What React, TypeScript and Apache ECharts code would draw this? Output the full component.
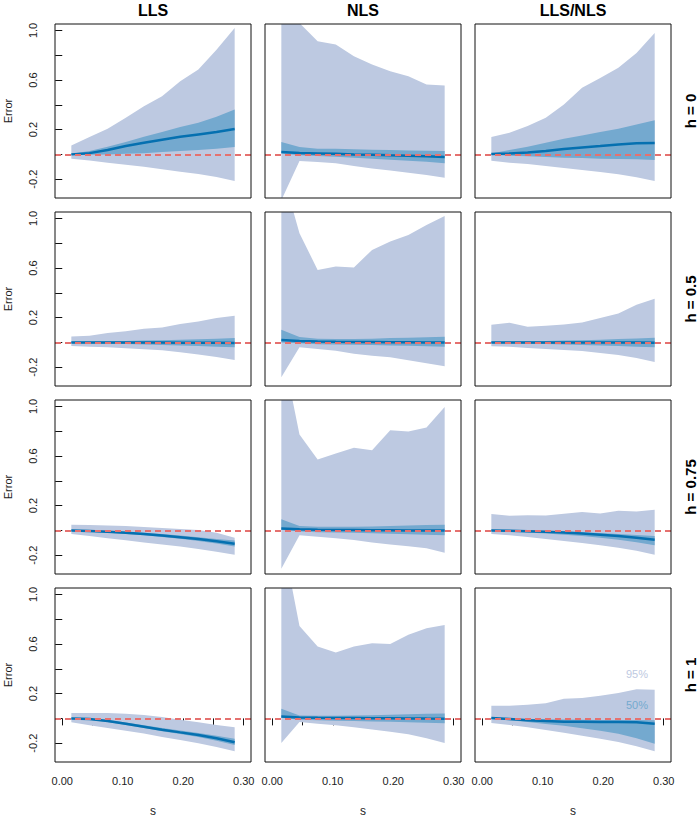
import React, { useEffect, useRef } from "react";
import * as echarts from "echarts";

// x positions (s)
const S = [0.015, 0.045, 0.075, 0.105, 0.135, 0.165, 0.195, 0.225, 0.255, 0.285];

const COLS = ["LLS", "NLS", "LLS/NLS"];
const ROWS = ["h = 0", "h = 0.5", "h = 0.75", "h = 1"];

const X_TICKS = [0, 0.05, 0.1, 0.15, 0.2, 0.25, 0.3];
const X_LABELS = [0, 0.1, 0.2, 0.3];
const Y_TICKS = [-0.2, 0, 0.2, 0.4, 0.6, 0.8, 1.0];
const Y_LABELS = [-0.2, 0.2, 0.6, 1.0];

// ---- h = 0 ----
const LLS_h0_hi95 = [0.072, 0.14, 0.207, 0.295, 0.389, 0.47, 0.59, 0.684, 0.845, 1.02];
const LLS_h0_lo95 = [-0.035, -0.05, -0.067, -0.083, -0.1, -0.12, -0.14, -0.158, -0.182, -0.215];
const LLS_h0_hi50 = [0.006, 0.027, 0.062, 0.1, 0.142, 0.18, 0.22, 0.255, 0.303, 0.362];
const LLS_h0_lo50 = [-0.004, -0.003, 0.0, 0.005, 0.01, 0.019, 0.027, 0.035, 0.046, 0.06];
const LLS_h0_med = [0.0, 0.01, 0.035, 0.067, 0.094, 0.118, 0.142, 0.161, 0.18, 0.204];

const NLS_h0_hi95 = [1.5, 1.06, 0.912, 0.886, 0.792, 0.725, 0.671, 0.631, 0.564, 0.556];
const NLS_h0_lo95 = [-0.37, -0.054, -0.062, -0.072, -0.094, -0.113, -0.131, -0.148, -0.166, -0.188];
const NLS_h0_hi50 = [0.1, 0.059, 0.046, 0.046, 0.042, 0.038, 0.035, 0.032, 0.03, 0.027];
const NLS_h0_lo50 = [0.008, -0.008, -0.013, -0.019, -0.027, -0.035, -0.043, -0.051, -0.059, -0.072];
const NLS_h0_med = [0.019, 0.011, 0.008, 0.005, 0.0, -0.003, -0.008, -0.011, -0.016, -0.021];

const MIX_h0_hi95 = [0.14, 0.174, 0.228, 0.295, 0.403, 0.537, 0.617, 0.698, 0.819, 0.98];
const MIX_h0_lo95 = [-0.051, -0.067, -0.078, -0.094, -0.11, -0.126, -0.142, -0.161, -0.185, -0.215];
const MIX_h0_hi50 = [0.008, 0.035, 0.062, 0.094, 0.126, 0.153, 0.18, 0.207, 0.242, 0.276];
const MIX_h0_lo50 = [-0.003, -0.011, -0.016, -0.021, -0.027, -0.03, -0.035, -0.038, -0.04, -0.046];
const MIX_h0_med = [0.003, 0.008, 0.016, 0.027, 0.043, 0.056, 0.067, 0.08, 0.089, 0.091];

// ---- h = 0.5 ----
const LLS_h05_hi95 = [0.048, 0.054, 0.075, 0.089, 0.11, 0.12, 0.148, 0.169, 0.196, 0.215];
const LLS_h05_lo95 = [-0.03, -0.035, -0.04, -0.048, -0.056, -0.064, -0.08, -0.097, -0.118, -0.142];
const LLS_h05_hi50 = [0.005, 0.007, 0.009, 0.012, 0.015, 0.018, 0.022, 0.026, 0.03, 0.035];
const LLS_h05_lo50 = [-0.005, -0.008, -0.011, -0.014, -0.017, -0.021, -0.025, -0.03, -0.035, -0.04];
const LLS_h05_med = [0, 0, -0.001, -0.001, -0.002, -0.002, -0.003, -0.003, -0.004, -0.005];

const NLS_h05_hi95 = [1.4, 0.88, 0.585, 0.612, 0.604, 0.746, 0.813, 0.867, 0.947, 1.02];
const NLS_h05_lo95 = [-0.282, -0.04, -0.054, -0.067, -0.091, -0.107, -0.121, -0.145, -0.169, -0.193];
const NLS_h05_hi50 = [0.102, 0.043, 0.03, 0.028, 0.028, 0.03, 0.035, 0.038, 0.042, 0.046];
const NLS_h05_lo50 = [0.0, -0.008, -0.015, -0.018, -0.02, -0.022, -0.025, -0.028, -0.032, -0.035];
const NLS_h05_med = [0.019, 0.012, 0.008, 0.005, 0.004, 0.003, 0.002, 0.001, 0.0, 0.0];

const MIX_h05_hi95 = [0.142, 0.158, 0.126, 0.134, 0.145, 0.161, 0.196, 0.233, 0.303, 0.352];
const MIX_h05_lo95 = [-0.032, -0.035, -0.046, -0.054, -0.062, -0.07, -0.086, -0.102, -0.126, -0.158];
const MIX_h05_hi50 = [0.005, 0.007, 0.009, 0.012, 0.015, 0.018, 0.022, 0.027, 0.032, 0.038];
const MIX_h05_lo50 = [-0.005, -0.008, -0.011, -0.014, -0.017, -0.021, -0.025, -0.03, -0.035, -0.04];
const MIX_h05_med = [0, 0, 0, -0.001, -0.001, -0.001, -0.002, -0.002, -0.002, -0.003];

// ---- h = 0.75 ----
const LLS_h075_hi95 = [0.046, 0.043, 0.04, 0.035, 0.028, 0.02, 0.012, 0.003, -0.02, -0.06];
const LLS_h075_lo95 = [-0.03, -0.046, -0.064, -0.08, -0.097, -0.113, -0.131, -0.15, -0.172, -0.196];
const LLS_h075_hi50 = [0.005, 0.0, -0.005, -0.012, -0.02, -0.03, -0.042, -0.055, -0.07, -0.082];
const LLS_h075_lo50 = [-0.005, -0.012, -0.02, -0.03, -0.04, -0.053, -0.068, -0.085, -0.105, -0.13];
const LLS_h075_med = [0, -0.005, -0.012, -0.02, -0.03, -0.042, -0.055, -0.07, -0.088, -0.107];

const NLS_h075_hi95 = [1.5, 0.773, 0.572, 0.62, 0.666, 0.647, 0.808, 0.797, 0.83, 0.996];
const NLS_h075_lo95 = [-0.309, -0.04, -0.051, -0.064, -0.078, -0.097, -0.113, -0.129, -0.145, -0.18];
const NLS_h075_hi50 = [0.089, 0.035, 0.03, 0.03, 0.03, 0.032, 0.035, 0.04, 0.043, 0.046];
const NLS_h075_lo50 = [0.005, -0.01, -0.015, -0.018, -0.02, -0.023, -0.027, -0.031, -0.035, -0.04];
const NLS_h075_med = [0.016, 0.01, 0.006, 0.004, 0.003, 0.002, 0.001, 0.0, -0.001, -0.002];

const MIX_h075_hi95 = [0.132, 0.118, 0.123, 0.121, 0.134, 0.148, 0.137, 0.158, 0.153, 0.166];
const MIX_h075_lo95 = [-0.03, -0.04, -0.054, -0.07, -0.086, -0.102, -0.121, -0.14, -0.164, -0.196];
const MIX_h075_hi50 = [0.005, 0.002, -0.002, -0.006, -0.01, -0.015, -0.022, -0.03, -0.038, -0.046];
const MIX_h075_lo50 = [-0.005, -0.01, -0.017, -0.025, -0.035, -0.046, -0.06, -0.075, -0.095, -0.12];
const MIX_h075_med = [0, -0.003, -0.007, -0.012, -0.018, -0.025, -0.035, -0.046, -0.06, -0.075];

// ---- h = 1 ----
const LLS_h1_hi95 = [0.043, 0.043, 0.043, 0.038, 0.027, 0.011, -0.011, -0.032, -0.054, -0.072];
const LLS_h1_lo95 = [-0.032, -0.056, -0.078, -0.099, -0.123, -0.15, -0.174, -0.2, -0.23, -0.266];
const LLS_h1_hi50 = [0.003, 0.0, -0.013, -0.033, -0.055, -0.078, -0.098, -0.117, -0.14, -0.165];
const LLS_h1_lo50 = [-0.004, -0.012, -0.03, -0.053, -0.078, -0.103, -0.127, -0.15, -0.18, -0.215];
const LLS_h1_med = [0, -0.005, -0.021, -0.043, -0.067, -0.091, -0.113, -0.134, -0.161, -0.193];

const NLS_h1_hi95 = [1.5, 0.746, 0.58, 0.531, 0.58, 0.607, 0.601, 0.674, 0.727, 0.754];
const NLS_h1_lo95 = [-0.199, -0.03, -0.043, -0.056, -0.072, -0.089, -0.107, -0.129, -0.161, -0.199];
const NLS_h1_hi50 = [0.078, 0.024, 0.022, 0.022, 0.024, 0.026, 0.03, 0.034, 0.037, 0.04];
const NLS_h1_lo50 = [0.005, -0.012, -0.016, -0.019, -0.022, -0.025, -0.028, -0.032, -0.036, -0.04];
const NLS_h1_med = [0.016, 0.008, 0.005, 0.004, 0.003, 0.002, 0.001, 0.0, -0.002, -0.003];

const MIX_h1_hi95 = [0.102, 0.102, 0.11, 0.123, 0.158, 0.164, 0.183, 0.204, 0.236, 0.231];
const MIX_h1_lo95 = [-0.038, -0.054, -0.072, -0.094, -0.115, -0.14, -0.164, -0.19, -0.225, -0.266];
const MIX_h1_hi50 = [0.006, 0.0, -0.005, -0.008, -0.01, -0.012, -0.013, -0.013, -0.013, -0.015];
const MIX_h1_lo50 = [-0.005, -0.015, -0.03, -0.045, -0.06, -0.08, -0.1, -0.125, -0.16, -0.205];
const MIX_h1_med = [0.003, -0.005, -0.016, -0.021, -0.027, -0.027, -0.03, -0.03, -0.032, -0.043];

type Panel = { hi95: number[]; lo95: number[]; hi50: number[]; lo50: number[]; med: number[] };

const PANELS: Panel[][] = [
  [
    { hi95: LLS_h0_hi95, lo95: LLS_h0_lo95, hi50: LLS_h0_hi50, lo50: LLS_h0_lo50, med: LLS_h0_med },
    { hi95: NLS_h0_hi95, lo95: NLS_h0_lo95, hi50: NLS_h0_hi50, lo50: NLS_h0_lo50, med: NLS_h0_med },
    { hi95: MIX_h0_hi95, lo95: MIX_h0_lo95, hi50: MIX_h0_hi50, lo50: MIX_h0_lo50, med: MIX_h0_med },
  ],
  [
    { hi95: LLS_h05_hi95, lo95: LLS_h05_lo95, hi50: LLS_h05_hi50, lo50: LLS_h05_lo50, med: LLS_h05_med },
    { hi95: NLS_h05_hi95, lo95: NLS_h05_lo95, hi50: NLS_h05_hi50, lo50: NLS_h05_lo50, med: NLS_h05_med },
    { hi95: MIX_h05_hi95, lo95: MIX_h05_lo95, hi50: MIX_h05_hi50, lo50: MIX_h05_lo50, med: MIX_h05_med },
  ],
  [
    { hi95: LLS_h075_hi95, lo95: LLS_h075_lo95, hi50: LLS_h075_hi50, lo50: LLS_h075_lo50, med: LLS_h075_med },
    { hi95: NLS_h075_hi95, lo95: NLS_h075_lo95, hi50: NLS_h075_hi50, lo50: NLS_h075_lo50, med: NLS_h075_med },
    { hi95: MIX_h075_hi95, lo95: MIX_h075_lo95, hi50: MIX_h075_hi50, lo50: MIX_h075_lo50, med: MIX_h075_med },
  ],
  [
    { hi95: LLS_h1_hi95, lo95: LLS_h1_lo95, hi50: LLS_h1_hi50, lo50: LLS_h1_lo50, med: LLS_h1_med },
    { hi95: NLS_h1_hi95, lo95: NLS_h1_lo95, hi50: NLS_h1_hi50, lo50: NLS_h1_lo50, med: NLS_h1_med },
    { hi95: MIX_h1_hi95, lo95: MIX_h1_lo95, hi50: MIX_h1_hi50, lo50: MIX_h1_lo50, med: MIX_h1_med },
  ],
];

const C95 = "#bdc9e1";
const C50 = "#74a9cf";
const CMED = "#0570b0";
const CZERO = "#e5716f";
const FONT = '"Liberation Sans", Arial, Helvetica, sans-serif';

const COL_LEFT = [55, 265, 475];
const ROW_TOP = [24, 212, 400, 588];
const PW = 196;
const PH = 174;

function bandSeries(i: number, lo: number[], hi: number[], color: string, z: number) {
  return {
    type: "custom",
    xAxisIndex: i,
    yAxisIndex: i,
    silent: true,
    animation: false,
    clip: true,
    z,
    encode: { x: 0, y: [1, 2] },
    data: S.map((x, k) => [x, lo[k], hi[k]]),
    renderItem: (params: any, api: any) => {
      if (params.dataIndex !== 0) return null;
      const up = S.map((x, k) => api.coord([x, hi[k]]));
      const dn = S.map((x, k) => api.coord([x, lo[k]])).reverse();
      const cs = params.coordSys;
      return {
        type: "polygon",
        shape: { points: up.concat(dn) },
        style: { fill: color, stroke: null },
        clipPath: {
          type: "rect",
          shape: { x: cs.x, y: cs.y, width: cs.width, height: cs.height },
        },
      };
    },
  };
}

function buildOption() {
  const grid: any[] = [];
  const xAxis: any[] = [];
  const yAxis: any[] = [];
  const series: any[] = [];
  const graphic: any[] = [];

  ROWS.forEach((_, r) => {
    COLS.forEach((__, c) => {
      const i = r * 3 + c;
      const p = PANELS[r][c];
      grid.push({
        left: COL_LEFT[c],
        top: ROW_TOP[r],
        width: PW,
        height: PH,
        show: true,
        borderColor: "#111",
        borderWidth: 1,
        backgroundColor: "transparent",
        z: 10,
      });
      const bottom = r === ROWS.length - 1;
      const left = c === 0;
      xAxis.push({
        type: "value",
        gridIndex: i,
        min: -0.012,
        max: 0.312,
        splitLine: { show: false },
        axisLine: { show: false },
        axisTick: {
          show: bottom,
          length: 7,
          inside: false,
          lineStyle: { color: "#111", width: 1 },
          customValues: X_TICKS,
        },
        axisLabel: {
          show: bottom,
          customValues: X_LABELS,
          formatter: (v: number) => v.toFixed(2),
          fontFamily: FONT,
          fontSize: 11,
          color: "#222",
          margin: 13,
        },
      });
      yAxis.push({
        type: "value",
        gridIndex: i,
        min: -0.352,
        max: 1.052,
        splitLine: { show: false },
        axisLine: { show: false },
        axisTick: {
          show: left,
          length: 7,
          inside: false,
          lineStyle: { color: "#111", width: 1 },
          customValues: Y_TICKS,
        },
        axisLabel: {
          show: left,
          customValues: Y_LABELS,
          formatter: (v: number) => v.toFixed(1),
          rotate: 90,
          fontFamily: FONT,
          fontSize: 11,
          color: "#222",
          margin: 17,
        },
      });
      series.push(bandSeries(i, p.lo95, p.hi95, C95, 1));
      series.push(bandSeries(i, p.lo50, p.hi50, C50, 2));
      series.push({
        type: "line",
        xAxisIndex: i,
        yAxisIndex: i,
        symbol: "none",
        showSymbol: false,
        silent: true,
        animation: false,
        data: S.map((x, k) => [x, p.med[k]]),
        lineStyle: { width: 2.5, color: CMED },
        z: 3,
        markLine: {
          silent: true,
          animation: false,
          symbol: ["none", "none"],
          label: { show: false },
          lineStyle: { color: CZERO, type: [6, 4], width: 1.8 },
          data: [{ yAxis: 0 }],
        },
      });
    });
  });

  const colCenters = COL_LEFT.map((l) => l + PW / 2);
  const rowCenters = ROW_TOP.map((t) => t + PH / 2);

  COLS.forEach((t, c) => {
    graphic.push({
      type: "text",
      x: colCenters[c],
      y: 10,
      silent: true,
      style: {
        text: t,
        font: `bold 16px ${FONT}`,
        fill: "#000",
        textAlign: "center",
        textVerticalAlign: "middle",
      },
    });
    graphic.push({
      type: "text",
      x: colCenters[c],
      y: 811,
      silent: true,
      style: {
        text: "s",
        font: `12px ${FONT}`,
        fill: "#222",
        textAlign: "center",
        textVerticalAlign: "middle",
      },
    });
  });

  ROWS.forEach((t, r) => {
    graphic.push({
      type: "text",
      x: 690,
      y: rowCenters[r],
      rotation: Math.PI / 2,
      silent: true,
      style: {
        text: t,
        font: `bold 15px ${FONT}`,
        fill: "#000",
        textAlign: "center",
        textVerticalAlign: "middle",
      },
    });
    graphic.push({
      type: "text",
      x: 8,
      y: rowCenters[r],
      rotation: Math.PI / 2,
      silent: true,
      style: {
        text: "Error",
        font: `11px ${FONT}`,
        fill: "#222",
        textAlign: "center",
        textVerticalAlign: "middle",
      },
    });
  });

  graphic.push({
    type: "text",
    x: 637,
    y: 674,
    silent: true,
    z: 100,
    style: { text: "95%", font: `11px ${FONT}`, fill: C95, textAlign: "center", textVerticalAlign: "middle" },
  });
  graphic.push({
    type: "text",
    x: 637,
    y: 705,
    silent: true,
    z: 100,
    style: { text: "50%", font: `11px ${FONT}`, fill: C50, textAlign: "center", textVerticalAlign: "middle" },
  });

  return {
    animation: false,
    backgroundColor: "#fff",
    grid,
    xAxis,
    yAxis,
    series,
    graphic,
  };
}

export default function App() {
  const ref = useRef<HTMLDivElement>(null);
  useEffect(() => {
    if (!ref.current) return;
    const chart = echarts.init(ref.current, null, { renderer: "svg" });
    chart.setOption(buildOption() as any);
    return () => chart.dispose();
  }, []);
  return (
    <div
      ref={ref}
      style={{ position: "absolute", left: 0, top: 0, width: 700, height: 818 }}
    />
  );
}
